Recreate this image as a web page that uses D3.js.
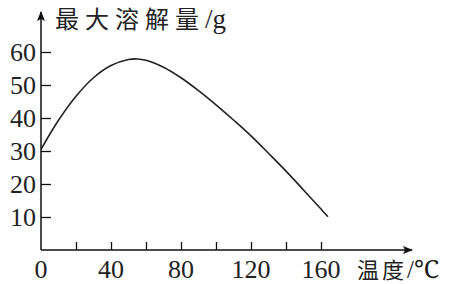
<!DOCTYPE html>
<html>
<head>
<meta charset="utf-8">
<script src="https://cdn.jsdelivr.net/npm/d3@7"></script>
<style>
  body { margin: 0; background: #fff; }
  text { fill: #222; }
  .cjk { font-family: "Noto Sans CJK SC", sans-serif; }
</style>
</head>
<body>
<div id="chart"></div>
<script>
// temperature (°C) vs max solubility (g)
let temps = [0, 10, 20, 30, 40, 50, 55, 60, 70, 80, 90, 100, 110, 120, 130, 140, 150, 160, 164];
let solubility = [30.5, 39.3, 46.6, 52.2, 55.9, 57.7, 57.9, 57.5, 55.4, 52.2, 48.3, 44.0, 39.4, 34.6, 29.3, 23.9, 18.2, 12.4, 10.1];
let xTicks = [20, 40, 60, 80, 100, 120, 140, 160];
let xLabels = [0, 40, 80, 120, 160];
let yTicks = [10, 20, 30, 40, 50, 60];

let width = 449, height = 284;
let serif = "'Liberation Serif', 'Times New Roman', 'Noto Serif', serif";

let svg = d3.select("#chart").append("svg")
    .attr("width", width)
    .attr("height", height);

// scales
let x = d3.scaleLinear().domain([0, 160]).range([41, 321]);
let y = d3.scaleLinear().domain([0, 60]).range([250, 52]);

// arrow marker
svg.append("defs").append("marker")
    .attr("id", "arrow")
    .attr("viewBox", "0 0 10 10")
    .attr("refX", 9).attr("refY", 5)
    .attr("markerWidth", 10).attr("markerHeight", 10)
    .attr("markerUnits", "userSpaceOnUse")
    .attr("orient", "auto")
    .append("path")
    .attr("d", "M0,1 L10,5 L0,9 L2,5 Z")
    .attr("fill", "#111");

// axis lines with arrows
svg.append("line")
    .attr("x1", x(0)).attr("y1", y(0))
    .attr("x2", 412).attr("y2", y(0))
    .attr("stroke", "#111").attr("stroke-width", 1.5)
    .attr("marker-end", "url(#arrow)");

svg.append("line")
    .attr("x1", x(0)).attr("y1", y(0))
    .attr("x2", x(0)).attr("y2", 12)
    .attr("stroke", "#111").attr("stroke-width", 1.5)
    .attr("marker-end", "url(#arrow)");

// x axis ticks (inward, up)
let xAxis = d3.axisBottom(x)
    .tickValues(xTicks)
    .tickSize(-8)
    .tickSizeOuter(0)
    .tickFormat("");

let gx = svg.append("g")
    .attr("transform", `translate(0,${y(0)})`)
    .call(xAxis);
gx.select(".domain").remove();
gx.selectAll(".tick line").attr("stroke", "#111").attr("stroke-width", 1.3);

// x labels
svg.selectAll(".xlab")
    .data(xLabels)
    .enter()
    .append("text")
    .attr("class", "xlab")
    .attr("x", d => x(d))
    .attr("y", 278)
    .attr("text-anchor", "middle")
    .style("font-family", serif)
    .style("font-size", "26px")
    .text(d => d);

// y axis ticks (inward, right)
let yAxis = d3.axisLeft(y)
    .tickValues(yTicks)
    .tickSize(-10)
    .tickSizeOuter(0);

let gy = svg.append("g")
    .attr("transform", `translate(${x(0)},0)`)
    .call(yAxis);
gy.select(".domain").remove();
gy.selectAll(".tick line").attr("stroke", "#111").attr("stroke-width", 1.3);
gy.selectAll(".tick text")
    .attr("x", -5)
    .attr("dy", "0.33em")
    .attr("fill", "#222")
    .style("font-family", serif)
    .style("font-size", "26px");

// curve
let line = d3.line()
    .x((d, i) => x(temps[i]))
    .y(d => y(d))
    .curve(d3.curveCatmullRom.alpha(0.5));

svg.append("path")
    .datum(solubility)
    .attr("d", line)
    .attr("fill", "none")
    .attr("stroke", "#222")
    .attr("stroke-width", 1.6);

// axis titles
let yTitle = svg.append("text")
    .attr("x", 55)
    .attr("y", 28);
yTitle.append("tspan")
    .attr("class", "cjk")
    .style("font-size", "24px")
    .style("letter-spacing", "6px")
    .text("最大溶解量");
yTitle.append("tspan")
    .style("font-family", serif)
    .style("font-size", "27px")
    .text("/g");

let xTitle = svg.append("text")
    .attr("x", 357)
    .attr("y", 278);
xTitle.append("tspan")
    .attr("class", "cjk")
    .style("font-size", "22px")
    .style("letter-spacing", "3px")
    .text("温度");
xTitle.append("tspan")
    .style("font-family", serif)
    .style("font-size", "25px")
    .text("/℃");
</script>
</body>
</html>
